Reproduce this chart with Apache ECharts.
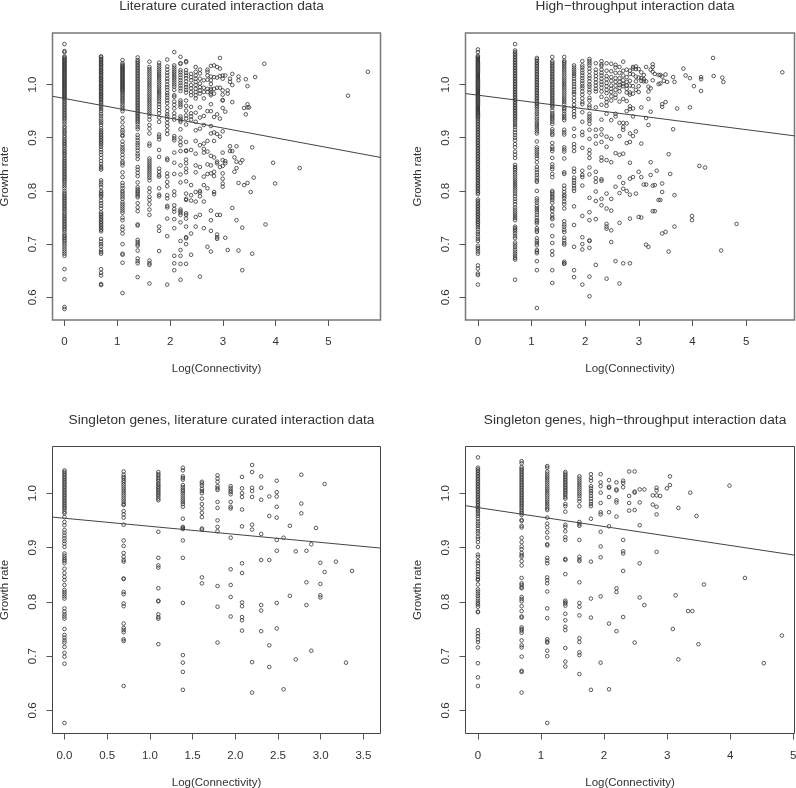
<!DOCTYPE html>
<html>
<head>
<meta charset="utf-8">
<title>Growth rate vs connectivity</title>
<script src="https://cdn.jsdelivr.net/npm/echarts@6/dist/echarts.min.js"></script>
<style>
  html, body { margin: 0; padding: 0; background: #fff; }
  #chart { width: 796px; height: 788px; }
</style>
</head>
<body>
<div id="chart"></div>
<script>
/* log(k) for each connectivity column, shared by the panels */
const litColumns = [0, 0.693, 1.099, 1.386, 1.609, 1.792, 1.946, 2.079, 2.197, 2.303, 2.398, 2.485, 2.565, 2.639, 2.708, 2.773, 2.833, 2.89, 2.944, 2.996, 3.045, 3.091, 3.135, 3.178, 3.219, 3.258, 3.296, 3.332, 3.367, 3.401, 3.434, 3.466, 3.497, 3.526, 3.555, 3.584, 3.611, 3.784, 3.807, 3.951, 3.989, 4.454, 5.37, 5.746];

/* --- Literature curated --- */
const litRates = [
  [1.076,1.063,1.061,1.053,1.051,1.049,1.047,1.045,1.043,1.041,1.039,1.037,1.035,1.033,1.031,1.029,1.027,1.025,1.023,1.021,1.019,1.017,1.015,1.013,1.011,1.009,1.007,1.005,1.003,1.001,0.999,0.997,0.995,0.993,0.991,0.989,0.987,0.985,0.983,0.981,0.979,0.977,0.975,0.973,0.97,0.967,0.964,0.961,0.958,0.955,0.952,0.949,0.946,0.943,0.94,0.937,0.934,0.93,0.926,0.921,0.918,0.914,0.911,0.908,0.904,0.901,0.897,0.894,0.891,0.888,0.885,0.882,0.878,0.875,0.872,0.869,0.866,0.862,0.859,0.856,0.853,0.85,0.847,0.844,0.841,0.838,0.835,0.832,0.829,0.826,0.823,0.82,0.817,0.813,0.809,0.805,0.8,0.796,0.793,0.79,0.787,0.784,0.781,0.778,0.775,0.772,0.769,0.766,0.763,0.759,0.756,0.753,0.75,0.747,0.744,0.741,0.738,0.735,0.732,0.729,0.726,0.722,0.718,0.715,0.712,0.709,0.706,0.702,0.698,0.694,0.69,0.686,0.682,0.678,0.653,0.634,0.582,0.578],
  [1.053,1.051,1.048,1.046,1.043,1.041,1.038,1.036,1.033,1.031,1.028,1.026,1.023,1.021,1.018,1.016,1.013,1.011,1.008,1.006,1.003,1.001,0.998,0.996,0.993,0.991,0.988,0.986,0.983,0.981,0.978,0.976,0.973,0.971,0.968,0.965,0.962,0.958,0.954,0.95,0.945,0.941,0.936,0.932,0.928,0.924,0.918,0.914,0.911,0.908,0.905,0.902,0.899,0.896,0.893,0.89,0.887,0.883,0.878,0.873,0.868,0.862,0.856,0.851,0.846,0.843,0.84,0.82,0.816,0.812,0.807,0.8,0.797,0.794,0.791,0.788,0.782,0.777,0.772,0.767,0.76,0.757,0.754,0.751,0.748,0.745,0.742,0.739,0.736,0.733,0.73,0.727,0.724,0.71,0.705,0.7,0.696,0.689,0.685,0.682,0.653,0.646,0.641,0.625,0.623],
  [1.046,1.04,1.037,1.035,1.033,1.031,1.029,1.027,1.025,1.023,1.021,1.019,1.017,1.015,1.013,1.011,1.009,1.007,1.005,1.003,1.001,0.999,0.997,0.995,0.993,0.991,0.989,0.987,0.984,0.981,0.978,0.975,0.972,0.969,0.966,0.962,0.958,0.954,0.95,0.937,0.929,0.92,0.914,0.91,0.905,0.903,0.893,0.887,0.882,0.878,0.874,0.868,0.862,0.855,0.852,0.848,0.835,0.826,0.815,0.81,0.805,0.8,0.797,0.793,0.789,0.785,0.779,0.775,0.771,0.767,0.763,0.759,0.75,0.745,0.733,0.727,0.72,0.7,0.682,0.68,0.665,0.608],
  [1.051,1.046,1.043,1.04,1.037,1.034,1.031,1.028,1.025,1.022,1.019,1.016,1.013,1.01,1.007,1.004,1.001,0.998,0.995,0.992,0.989,0.986,0.983,0.98,0.977,0.974,0.971,0.968,0.965,0.962,0.959,0.956,0.953,0.95,0.947,0.944,0.941,0.938,0.935,0.932,0.929,0.925,0.92,0.916,0.905,0.9,0.895,0.89,0.886,0.881,0.876,0.87,0.866,0.86,0.845,0.84,0.834,0.828,0.816,0.807,0.803,0.8,0.797,0.794,0.791,0.788,0.777,0.769,0.762,0.737,0.735,0.708,0.704,0.7,0.697,0.688,0.673,0.668,0.664,0.638],
  [1.043,1.033,1.029,1.025,1.021,1.017,1.013,1.009,1.005,1.001,0.997,0.993,0.989,0.985,0.981,0.977,0.973,0.969,0.965,0.961,0.957,0.953,0.949,0.945,0.94,0.934,0.924,0.917,0.908,0.889,0.885,0.861,0.857,0.853,0.849,0.845,0.841,0.837,0.833,0.829,0.825,0.82,0.805,0.798,0.789,0.783,0.775,0.765,0.755,0.669,0.664,0.661,0.626],
  [1.041,1.036,1.032,1.028,1.024,1.02,1.016,1.012,1.008,1.004,1,0.996,0.992,0.988,0.984,0.98,0.976,0.972,0.968,0.963,0.958,0.952,0.946,0.938,0.93,0.906,0.902,0.897,0.877,0.864,0.842,0.836,0.83,0.827,0.805,0.793,0.79,0.733,0.725,0.687],
  [1.047,1.034,1.028,1.022,1.017,1.011,1.006,1,0.995,0.99,0.984,0.98,0.975,0.97,0.965,0.957,0.95,0.944,0.94,0.935,0.928,0.922,0.914,0.907,0.861,0.858,0.833,0.827,0.817,0.809,0.792,0.786,0.772,0.769,0.748,0.715,0.624],
  [1.061,1.036,1.032,1.028,1.024,1.02,1.016,1.012,1.008,1.004,1,0.996,0.99,0.98,0.977,0.968,0.962,0.955,0.946,0.94,0.934,0.903,0.899,0.895,0.872,0.853,0.832,0.799,0.792,0.773,0.766,0.761,0.747,0.73,0.678,0.664,0.651],
  [1.052,1.04,1.039,1.027,1.023,1.018,1.013,1.008,1.003,0.998,0.993,0.988,0.97,0.966,0.962,0.958,0.94,0.936,0.933,0.93,0.916,0.9,0.892,0.886,0.875,0.848,0.831,0.816,0.765,0.762,0.759,0.755,0.741,0.706,0.689,0.678,0.663,0.633],
  [1.044,1.042,1.027,1.022,1.017,1.012,1.006,1,0.995,0.99,0.985,0.97,0.96,0.951,0.942,0.936,0.925,0.892,0.876,0.875,0.859,0.852,0.842,0.835,0.818,0.795,0.785,0.783,0.758,0.755,0.748,0.733,0.713,0.711,0.7,0.663],
  [1.02,1.014,1.008,0.999,0.993,0.986,0.98,0.958,0.946,0.94,0.934,0.877,0.811,0.792,0.782,0.72,0.68],
  [1.033,1.024,1.017,1.011,1.005,0.999,0.992,0.986,0.98,0.974,0.947,0.93,0.914,0.894,0.87,0.848,0.835,0.798,0.78,0.751,0.733],
  [1.028,1.021,1.011,1.002,0.995,0.989,0.983,0.957,0.938,0.917,0.886,0.845,0.8,0.797,0.79,0.755,0.639],
  [1.008,0.994,0.986,0.974,0.941,0.924,0.889,0.879,0.872,0.827,0.811,0.78,0.73],
  [1.028,1.024,1.017,1.009,0.992,0.986,0.95,0.894,0.874,0.85,0.832,0.805,0.695],
  [1.035,1.015,1.008,1.001,0.992,0.989,0.983,0.98,0.963,0.95,0.922,0.908,0.866,0.848,0.833,0.763,0.745,0.725,0.686],
  [1.036,1.014,0.992,0.983,0.939,0.91,0.894,0.863,0.836,0.828,0.798,0.794],
  [1.033,1.013,0.994,0.944,0.907,0.855,0.852,0.755,0.718,0.713,0.71],
  [1.05,1.03,1.016,0.994,0.936,0.902,0.845,0.755],
  [1.017,1.011,0.989,0.981,0.971,0.97,0.956,0.912,0.872,0.858,0.847,0.833,0.823,0.814,0.808],
  [1.017,0.949,0.856,0.852,0.712],
  [0.989,0.983,0.689],
  [1.011,1.005,0.884,0.875],
  [1.02,0.999,0.967,0.875,0.768],
  [0.863,0.836],
  [0.884,0.855,0.843,0.745],
  [1.015,1.008,0.815,0.688],
  [0.853],
  [0.858,0.731,0.651],
  [0.956,0.811],
  [1.01,0.944],
  [0.997,0.963,0.957,0.815],
  [0.957],
  [0.798],
  [0.882,0.682],
  [0.825],
  [1.014],
  [1.039],
  [0.737],
  [0.853],
  [0.814],
  [0.843],
  [0.979],
  [1.024]
];

/* --- High-throughput --- */
const htColumns = [0, 0.693, 1.099, 1.386, 1.609, 1.792, 1.946, 2.079, 2.197, 2.303, 2.398, 2.485, 2.565, 2.639, 2.708, 2.773, 2.833, 2.89, 2.944, 2.996, 3.045, 3.091, 3.135, 3.178, 3.219, 3.258, 3.296, 3.332, 3.367, 3.401, 3.434, 3.466, 3.497, 3.526, 3.555, 3.584, 3.638, 3.664, 3.714, 3.829, 3.871, 3.951, 3.989, 4.025, 4.127, 4.159, 4.234, 4.382, 4.394, 4.533, 4.554, 4.575, 4.82, 5.673];
const htRates = [
  [1.066,1.061,1.054,1.052,1.05,1.048,1.046,1.044,1.042,1.04,1.038,1.036,1.034,1.032,1.03,1.028,1.026,1.024,1.022,1.02,1.018,1.016,1.014,1.012,1.01,1.008,1.006,1.004,1.002,1,0.998,0.996,0.994,0.992,0.99,0.988,0.986,0.984,0.982,0.98,0.978,0.976,0.974,0.972,0.97,0.968,0.966,0.964,0.962,0.96,0.958,0.956,0.954,0.952,0.95,0.948,0.946,0.944,0.942,0.94,0.938,0.935,0.932,0.929,0.926,0.923,0.92,0.917,0.914,0.911,0.908,0.905,0.902,0.899,0.896,0.893,0.89,0.887,0.884,0.881,0.878,0.875,0.872,0.869,0.866,0.863,0.86,0.857,0.854,0.851,0.848,0.845,0.842,0.839,0.836,0.833,0.83,0.827,0.824,0.821,0.818,0.815,0.812,0.809,0.806,0.803,0.8,0.797,0.794,0.784,0.781,0.778,0.775,0.772,0.769,0.766,0.763,0.76,0.757,0.754,0.751,0.748,0.745,0.742,0.739,0.736,0.732,0.728,0.723,0.719,0.714,0.71,0.706,0.697,0.693,0.69,0.686,0.682,0.66,0.654,0.645,0.642,0.624],
  [1.076,1.064,1.061,1.058,1.055,1.052,1.049,1.046,1.043,1.04,1.037,1.034,1.031,1.028,1.025,1.022,1.019,1.016,1.013,1.01,1.007,1.004,1.001,0.998,0.995,0.992,0.989,0.986,0.983,0.98,0.977,0.974,0.971,0.968,0.965,0.962,0.959,0.956,0.953,0.95,0.947,0.944,0.941,0.938,0.935,0.932,0.928,0.924,0.92,0.915,0.91,0.905,0.9,0.895,0.888,0.882,0.874,0.868,0.862,0.849,0.845,0.842,0.839,0.835,0.831,0.827,0.823,0.819,0.815,0.811,0.807,0.803,0.799,0.795,0.79,0.785,0.78,0.775,0.769,0.765,0.761,0.757,0.753,0.749,0.745,0.733,0.73,0.727,0.724,0.72,0.715,0.711,0.703,0.699,0.695,0.69,0.686,0.682,0.678,0.674,0.671,0.633],
  [1.05,1.047,1.044,1.041,1.038,1.035,1.032,1.029,1.026,1.023,1.02,1.017,1.014,1.011,1.008,1.005,1.002,0.999,0.996,0.993,0.99,0.987,0.984,0.981,0.978,0.975,0.972,0.969,0.966,0.963,0.96,0.957,0.953,0.949,0.945,0.94,0.936,0.932,0.928,0.924,0.92,0.916,0.912,0.908,0.893,0.882,0.878,0.874,0.87,0.866,0.861,0.854,0.845,0.84,0.835,0.83,0.825,0.82,0.817,0.8,0.786,0.782,0.778,0.772,0.768,0.764,0.76,0.755,0.75,0.745,0.742,0.739,0.73,0.726,0.723,0.711,0.706,0.702,0.698,0.689,0.686,0.683,0.668,0.651,0.58],
  [1.052,1.044,1.041,1.038,1.035,1.032,1.029,1.026,1.023,1.02,1.017,1.014,1.011,1.008,1.005,1.002,0.999,0.996,0.993,0.99,0.987,0.984,0.981,0.978,0.975,0.972,0.969,0.966,0.963,0.96,0.957,0.951,0.946,0.943,0.94,0.937,0.934,0.93,0.926,0.916,0.912,0.908,0.905,0.89,0.883,0.879,0.875,0.862,0.85,0.845,0.841,0.832,0.826,0.8,0.797,0.794,0.79,0.787,0.783,0.778,0.769,0.767,0.762,0.755,0.75,0.747,0.735,0.715,0.702,0.687,0.68,0.651,0.627],
  [1.052,1.045,1.042,1.039,1.035,1.031,1.027,1.023,1.019,1.015,1.011,1.007,1.003,0.999,0.995,0.991,0.987,0.983,0.979,0.975,0.971,0.967,0.963,0.957,0.954,0.95,0.945,0.941,0.937,0.933,0.915,0.91,0.906,0.882,0.878,0.874,0.861,0.835,0.832,0.81,0.804,0.798,0.793,0.79,0.786,0.78,0.775,0.767,0.743,0.737,0.733,0.727,0.723,0.712,0.707,0.702,0.699,0.667,0.664,0.663],
  [1.036,1.032,1.028,1.024,1.02,1.016,1.011,1.006,1.001,0.996,0.991,0.986,0.982,0.975,0.969,0.962,0.956,0.95,0.944,0.939,0.917,0.903,0.888,0.882,0.875,0.842,0.836,0.825,0.82,0.815,0.81,0.805,0.8,0.771,0.736,0.695,0.651,0.638],
  [1.044,1.036,1.032,1.027,1.022,1.017,1.012,1.007,1.002,0.997,0.993,0.987,0.981,0.974,0.967,0.963,0.948,0.93,0.911,0.905,0.881,0.838,0.83,0.826,0.81,0.753,0.713,0.7,0.69,0.624],
  [1.048,1.044,1.04,1.036,1.03,1.024,1.017,1.012,1.006,1,0.996,0.99,0.985,0.975,0.97,0.961,0.957,0.945,0.94,0.936,0.932,0.926,0.915,0.898,0.877,0.87,0.862,0.844,0.831,0.787,0.76,0.745,0.707,0.706,0.693,0.639,0.602],
  [1.04,1.028,1.022,1.016,1.01,1.004,0.998,0.992,0.987,0.957,0.915,0.903,0.889,0.836,0.824,0.817,0.799,0.781,0.747,0.661],
  [1.044,1.038,1.035,1.028,1.022,1.017,1.011,1.005,1,0.994,0.987,0.977,0.962,0.934,0.916,0.906,0.892,0.863,0.857,0.822,0.819,0.785,0.773],
  [1.04,1.026,1.016,1.01,1.003,0.997,0.99,0.984,0.973,0.967,0.96,0.945,0.902,0.883,0.858,0.795,0.767,0.738,0.733,0.729,0.635],
  [1.039,1.025,1.014,1.007,0.998,0.992,0.986,0.978,0.97,0.933,0.898,0.854,0.785,0.763,0.726,0.704],
  [1.037,1.032,1.022,1.012,1.005,0.998,0.99,0.981,0.975,0.945,0.94,0.871,0.808,0.668],
  [1.033,1.022,1.012,1.005,0.999,0.994,0.987,0.968,0.928,0.903,0.868,0.826,0.796,0.74,0.626],
  [1.043,1.026,1.017,1.008,1.001,0.997,0.973,0.928,0.92,0.915,0.87,0.815,0.804,0.664],
  [1.028,1.014,1.005,0.998,0.992,0.985,0.969,0.95,0.927,0.89,0.8],
  [1.026,1.02,1.007,0.998,0.985,0.981,0.959,0.954,0.908,0.892,0.853,0.823,0.793,0.748,0.664],
  [1.033,1.03,1.019,0.997,0.983,0.955,0.94,0.903,0.826],
  [1.034,1.029,1.015,1.006,0.99,0.912,0.795],
  [1.029,1.013,0.997,0.986,0.836,0.751],
  [1.023,1.012,1.007,0.957,0.889,0.826,0.75],
  [1.018,1.01,1.006,0.812],
  [1.033,1.006,0.937,0.812,0.699],
  [0.996,0.987,0.973,0.924,0.695],
  [1.028,0.993,0.949,0.854,0.83],
  [1.038,1.033,1.024,1.008,0.81,0.762],
  [1.02,0.811,0.762],
  [0.838],
  [1.018,1.001,0.783],
  [1.018,1.002,0.783],
  [1.015,0.963,0.958,0.814,0.798,0.72],
  [1.007],
  [1.019,0.967,0.723],
  [1.005],
  [0.869,0.686],
  [0.832],
  [1.014,0.916],
  [1.005,0.792,0.733],
  [0.955],
  [1.03],
  [1.017],
  [1.012,0.957],
  [0.753,0.745],
  [0.997],
  [0.847],
  [1.014,1.01,0.988],
  [0.844],
  [1.05],
  [1.016],
  [0.688],
  [1.013],
  [1.005],
  [0.738],
  [1.023]
];

/* --- Singleton genes, literature curated --- */
const singleLitColumns = [0, 0.693, 1.099, 1.386, 1.609, 1.792, 1.946, 2.079, 2.197, 2.303, 2.398, 2.485, 2.565, 2.639, 2.708, 2.773, 2.833, 2.89, 2.944, 2.996, 3.045, 3.178, 3.296, 3.367];
const singleLitRates = [
  [1.042,1.039,1.036,1.033,1.03,1.027,1.024,1.021,1.018,1.015,1.012,1.009,1.006,1.003,1,0.997,0.994,0.991,0.988,0.985,0.982,0.979,0.976,0.973,0.97,0.966,0.963,0.956,0.947,0.941,0.932,0.927,0.922,0.917,0.912,0.907,0.901,0.889,0.885,0.881,0.878,0.875,0.871,0.861,0.853,0.846,0.84,0.831,0.822,0.818,0.814,0.81,0.806,0.788,0.782,0.777,0.773,0.769,0.75,0.739,0.734,0.729,0.725,0.717,0.706,0.699,0.686,0.577],
  [1.04,1.034,1.03,1.027,1.023,1.02,1.016,1.012,1.008,1.004,1,0.996,0.992,0.988,0.984,0.98,0.978,0.967,0.961,0.955,0.942,0.913,0.903,0.89,0.883,0.877,0.874,0.843,0.842,0.818,0.814,0.797,0.792,0.76,0.752,0.748,0.744,0.731,0.728,0.645],
  [1.039,1.035,1.032,1.028,1.025,1.022,1.018,1.015,1.012,1.009,1.006,1.003,1,0.997,0.994,0.99,0.987,0.929,0.881,0.867,0.863,0.825,0.802,0.801,0.777,0.772,0.769,0.722],
  [1.047,1.042,1.031,1.028,1.025,1.015,1.011,1.007,1.004,1,0.996,0.992,0.988,0.984,0.98,0.975,0.953,0.938,0.936,0.934,0.913,0.881,0.798,0.702,0.688,0.671,0.638],
  [1.021,1.018,1.014,1.008,1.004,1,0.99,0.98,0.972,0.964,0.956,0.935,0.933,0.845,0.834],
  [1.033,1.027,1.021,1.013,1.009,1.006,0.984,0.973,0.95,0.938,0.93,0.829,0.791,0.725],
  [1.013,1.009,1.005,1.002,0.998,0.984,0.975,0.972,0.918,0.86,0.831,0.809,0.773],
  [1.03,1.009,1,0.993,0.97,0.939,0.871,0.853,0.799,0.792,0.772,0.766,0.747],
  [1.052,1.039,1.01,1.004,0.993,0.942,0.933,0.689,0.633],
  [1.031,1.01,0.988,0.925,0.877,0.794,0.784,0.746],
  [0.994,0.958,0.877,0.72,0.68],
  [1.023,1.002,0.994,0.975,0.955,0.914,0.894,0.798,0.751],
  [0.918,0.639],
  [0.94,0.811],
  [0.893,0.694],
  [1.034,0.981,0.963],
  [0.894,0.836,0.794],
  [0.906,0.71],
  [0.936],
  [0.872,0.833,0.812,0.808],
  [1.017,0.855],
  [0.874],
  [0.688],
  [0.857]
];

/* --- Singleton genes, high-throughput --- */
const singleHtColumns = [0, 0.693, 1.099, 1.386, 1.609, 1.792, 1.946, 2.079, 2.197, 2.303, 2.398, 2.485, 2.565, 2.639, 2.773, 2.833, 2.89, 2.996, 3.045, 3.091, 3.135, 3.178, 3.332, 3.367, 3.401, 3.466, 3.497, 3.584, 3.989, 4.234, 4.533, 4.82];
const singleHtRates = [
  [1.066,1.047,1.044,1.041,1.038,1.035,1.032,1.029,1.026,1.023,1.02,1.017,1.014,1.011,1.008,1.005,1.002,0.999,0.996,0.993,0.99,0.987,0.984,0.981,0.978,0.975,0.972,0.969,0.966,0.962,0.958,0.953,0.948,0.944,0.94,0.935,0.93,0.926,0.92,0.916,0.91,0.901,0.887,0.883,0.875,0.871,0.866,0.86,0.855,0.851,0.846,0.842,0.84,0.832,0.823,0.819,0.815,0.811,0.806,0.802,0.798,0.795,0.791,0.782,0.781,0.748,0.742,0.737,0.731,0.726,0.716,0.687,0.661,0.645],
  [1.059,1.055,1.048,1.045,1.042,1.039,1.036,1.033,1.03,1.027,1.024,1.021,1.018,1.015,1.012,1.009,1.006,1.003,1,0.997,0.994,0.991,0.988,0.985,0.982,0.979,0.976,0.973,0.969,0.966,0.963,0.96,0.951,0.949,0.94,0.937,0.918,0.91,0.902,0.897,0.89,0.886,0.883,0.875,0.867,0.844,0.834,0.831,0.827,0.825,0.809,0.805,0.801,0.792,0.783,0.773,0.771,0.753,0.75,0.747,0.743,0.729,0.72,0.716,0.699,0.673,0.671,0.633],
  [1.05,1.047,1.04,1.036,1.032,1.028,1.024,1.02,1.016,1.012,1.008,1.004,1,0.996,0.992,0.988,0.984,0.98,0.976,0.972,0.969,0.955,0.944,0.937,0.928,0.918,0.906,0.904,0.881,0.876,0.871,0.845,0.84,0.834,0.819,0.788,0.77,0.731,0.727,0.725,0.71,0.7,0.577],
  [1.039,1.036,1.033,1.03,1.027,1.024,1.021,1.018,1.015,1.012,1.009,1.006,1.003,1,0.997,0.993,0.99,0.98,0.976,0.966,0.942,0.938,0.93,0.919,0.914,0.879,0.877,0.851,0.802,0.799,0.797,0.793,0.778,0.766,0.754,0.748,0.715,0.69,0.681],
  [1.031,1.027,1.023,1.019,1.015,1.011,1.007,1.003,0.999,0.995,0.99,0.985,0.976,0.947,0.943,0.94,0.914,0.883,0.878,0.875,0.836,0.798,0.791,0.775,0.733,0.726,0.707,0.702,0.667],
  [1.035,1.028,1.023,1.013,1.009,1.004,1,0.995,0.99,0.985,0.98,0.976,0.953,0.874,0.806,0.771,0.638],
  [1.035,1.02,1.013,1.001,0.982,0.965,0.961,0.929,0.902,0.882,0.81,0.688],
  [1.024,1.012,1.01,0.993,0.965,0.939,0.76,0.639],
  [1.02,1.007,1.005,0.987,0.983,0.957,0.825,0.818,0.746],
  [1.023,1.019,1.011,0.914,0.893,0.889,0.857,0.772],
  [1.04,0.995,0.982,0.968],
  [1.04,1.003,1.001,0.969,0.725],
  [1.007,0.983,0.941,0.871,0.808],
  [1.007,0.794],
  [0.996,0.979],
  [1.01,1.005,0.996,0.975,0.961,0.892],
  [0.995],
  [1.009],
  [1.031,1.015],
  [0.75],
  [0.812],
  [0.973,0.694],
  [0.783],
  [1.001],
  [0.783],
  [0.958],
  [0.722],
  [0.832],
  [1.014],
  [0.844],
  [0.687],
  [0.738]
];

/* fitted line ends, read at the box edges */
const litFit = [[-0.227, 0.978], [5.985, 0.863]];
const htFit = [[-0.231, 0.983], [5.9, 0.9036]];
const singleLitFit = [[-0.14, 0.956], [3.7, 0.899]];
const singleHtFit = [[-0.197, 0.977], [5.02, 0.886]];

const xTicksInt = [0, 1, 2, 3, 4, 5];
const xTicksHalf = [0, 0.5, 1, 1.5, 2, 2.5, 3, 3.5];
const yTicks = [0.6, 0.7, 0.8, 0.9, 1.0];

const titles = [
  'Literature curated interaction data',
  'High\u2212throughput interaction data',
  'Singleton genes, literature curated interaction data',
  'Singleton genes, high\u2212throughput interaction data'
];

function toPoints(cols, rates) {
  return cols.flatMap((x, i) => rates[i].map(y => [x, y]));
}

const TEXT = '#333';
const FONT = '"Liberation Sans", Arial, sans-serif';

// top row box is paler and a bit heavier than the bottom row in the scan
const panels = [
  { left: 52.5, top: 33, width: 328, height: 287, xMin: -0.227, xMax: 5.985, yMin: 0.5574, yMax: 1.0969, xTicks: xTicksInt, pts: toPoints(litColumns, litRates), fit: litFit, dec: 0, box: '#777', boxWidth: 1.5 },
  { left: 465.5, top: 33, width: 329, height: 287, xMin: -0.231, xMax: 5.9, yMin: 0.5574, yMax: 1.0969, xTicks: xTicksInt, pts: toPoints(htColumns, htRates), fit: htFit, dec: 0, box: '#777', boxWidth: 1.5 },
  { left: 52.5, top: 446.5, width: 328, height: 287, xMin: -0.14, xMax: 3.7, yMin: 0.5576, yMax: 1.086, xTicks: xTicksHalf, pts: toPoints(singleLitColumns, singleLitRates), fit: singleLitFit, dec: 1, box: '#444', boxWidth: 1 },
  { left: 465.5, top: 446.5, width: 329, height: 287, xMin: -0.197, xMax: 5.02, yMin: 0.5576, yMax: 1.086, xTicks: xTicksInt, pts: toPoints(singleHtColumns, singleHtRates), fit: singleHtFit, dec: 0, box: '#444', boxWidth: 1 }
];

const option = {
  animation: false,
  backgroundColor: '#fff',
  title: panels.map((p, i) => ({
    text: titles[i],
    left: p.left + p.width / 2,
    top: p.top - 38.5,
    textAlign: 'center',
    textStyle: { fontFamily: FONT, fontSize: 13.7, fontWeight: 'normal', color: TEXT }
  })),
  grid: panels.map(p => ({
    left: p.left, top: p.top, width: p.width, height: p.height,
    outerBoundsMode: 'none', // keep the box where it is, the y title sits at the page edge
    show: true, borderColor: p.box, borderWidth: p.boxWidth, backgroundColor: 'transparent'
  })),
  xAxis: panels.map((p, i) => ({
    type: 'value', gridIndex: i, min: p.xMin, max: p.xMax,
    name: 'Log(Connectivity)', nameLocation: 'middle', nameGap: 43,
    nameTextStyle: { fontFamily: FONT, fontSize: 11.5, color: TEXT },
    splitLine: { show: false },
    axisLine: { show: false, onZero: false },
    axisTick: { show: true, length: 6, customValues: p.xTicks, lineStyle: { color: '#555', width: 1 } },
    axisLabel: {
      customValues: p.xTicks, margin: 16, fontFamily: FONT, fontSize: 11.5, color: TEXT,
      formatter: v => v.toFixed(p.dec)
    }
  })),
  yAxis: panels.map((p, i) => ({
    type: 'value', gridIndex: i, min: p.yMin, max: p.yMax,
    name: 'Growth rate', nameLocation: 'middle', nameGap: 42,
    nameTextStyle: { fontFamily: FONT, fontSize: 11.5, color: TEXT },
    splitLine: { show: false },
    axisLine: { show: false, onZero: false },
    axisTick: { show: true, length: 6, customValues: yTicks, lineStyle: { color: '#555', width: 1 } },
    axisLabel: {
      customValues: yTicks, rotate: 90, margin: 14, fontFamily: FONT, fontSize: 11.5, color: TEXT,
      align: 'center', verticalAlign: 'bottom',
      formatter: v => v.toFixed(1)
    }
  })),
  series: panels.flatMap((p, i) => [
    {
      type: 'scatter', xAxisIndex: i, yAxisIndex: i, data: p.pts,
      symbol: 'circle', symbolSize: 3.6, silent: true,
      itemStyle: { color: 'rgba(255,255,255,0)', borderColor: '#333', borderWidth: 1 }
    },
    {
      type: 'line', xAxisIndex: i, yAxisIndex: i, data: p.fit,
      symbol: 'none', silent: true, lineStyle: { color: '#444', width: 1 }
    }
  ])
};

const chart = echarts.init(document.getElementById('chart'), null, { renderer: 'canvas' });
chart.setOption(option);
</script>
</body>
</html>
